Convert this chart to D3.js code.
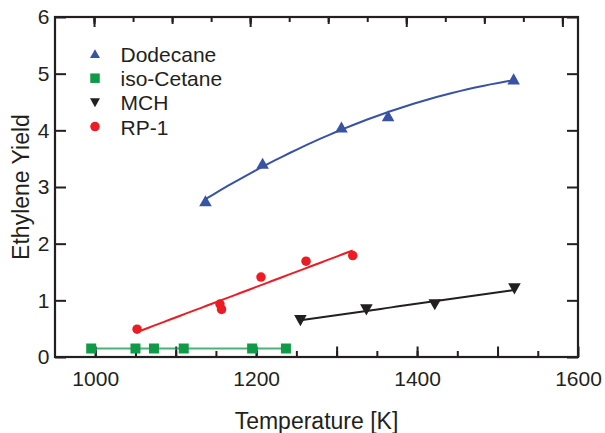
<!DOCTYPE html>
<html>
<head>
<meta charset="utf-8">
<script src="https://cdn.jsdelivr.net/npm/d3@7"></script>
<style>
  body { margin: 0; background: #fff; }
  text { font-family: "Liberation Sans", Arial, sans-serif; fill: #231f20; }
</style>
</head>
<body>
<svg id="chart" width="605" height="433"></svg>
<script>
// Data
const dodecaneT = [1137, 1208, 1306, 1364, 1520];
const dodecaneY = [2.75, 3.41, 4.05, 4.25, 4.9];
const isoCetaneT = [995, 1050, 1073, 1110, 1195, 1237];
const isoCetaneY = [0.15, 0.15, 0.15, 0.15, 0.15, 0.15];
const mchT = [1255, 1337, 1422, 1521];
const mchY = [0.65, 0.84, 0.93, 1.21];
const rp1T = [1052, 1155, 1157, 1206, 1262, 1320];
const rp1Y = [0.49, 0.935, 0.84, 1.41, 1.69, 1.79];

const seriesNames = ["Dodecane", "iso-Cetane", "MCH", "RP-1"];
const xLabelTicks = [1000, 1200, 1400, 1600];
const yTicks = [0, 1, 2, 3, 4, 5, 6];

const colors = {
  "Dodecane": "#3953a4",
  "iso-Cetane": "#0f9a48",
  "MCH": "#231f20",
  "RP-1": "#ed1c24"
};

const series = [
  { name: "Dodecane", t: dodecaneT, y: dodecaneY, shape: "up", fit: 2 },
  { name: "iso-Cetane", t: isoCetaneT, y: isoCetaneY, shape: "square", fit: 1 },
  { name: "MCH", t: mchT, y: mchY, shape: "down", fit: 1 },
  { name: "RP-1", t: rp1T, y: rp1Y, shape: "circle", fit: 1 }
];

/**
 * Least squares polynomial fit (degree 1 or 2), returns a function t -> fitted value
 */
const polyFit = (xs, ys, deg) => {
  const n = deg + 1;
  const x0 = d3.mean(xs); // centre x for stability
  const A = Array.from({ length: n }, () => new Array(n + 1).fill(0));
  xs.forEach((xv, k) => {
    const u = xv - x0;
    for (let i = 0; i < n; i++) {
      for (let j = 0; j < n; j++) A[i][j] += Math.pow(u, i + j);
      A[i][n] += ys[k] * Math.pow(u, i);
    }
  });
  // gaussian elimination
  for (let i = 0; i < n; i++) {
    for (let r = i + 1; r < n; r++) {
      const f = A[r][i] / A[i][i];
      for (let c = i; c <= n; c++) A[r][c] -= f * A[i][c];
    }
  }
  const c = new Array(n).fill(0);
  for (let i = n - 1; i >= 0; i--) {
    let s = A[i][n];
    for (let j = i + 1; j < n; j++) s -= A[i][j] * c[j];
    c[i] = s / A[i][i];
  }
  return t => c.reduce((acc, ci, i) => acc + ci * Math.pow(t - x0, i), 0);
};

const svg = d3.select("#chart");
const plotLeft = 55, plotRight = 578, plotTop = 17, plotBottom = 357;

const x = d3.scaleLinear().domain([950, 1600]).range([plotLeft, plotRight]);
const xTop = d3.scaleLinear().domain([950, 1620]).range([plotLeft, plotRight]);
const y = d3.scaleLinear().domain([0, 6]).range([plotBottom, plotTop]);

// bottom axis: minor then major ticks (inward)
svg.append("g")
  .attr("transform", `translate(0,${plotBottom})`)
  .call(d3.axisBottom(x).tickValues(d3.range(1000, 1600, 50)).tickSizeInner(-6).tickSizeOuter(0).tickFormat(""))
  .call(g => g.select(".domain").remove());

svg.append("g")
  .attr("transform", `translate(0,${plotBottom})`)
  .call(d3.axisBottom(x).tickValues(d3.range(1000, 1601, 100)).tickSizeInner(-10.5).tickSizeOuter(0)
    .tickPadding(14).tickFormat(d => xLabelTicks.includes(d) ? d : ""))
  .call(g => g.select(".domain").remove())
  .call(g => g.selectAll("text").style("font-size", "21px"));

// top axis (mirror, three tick lengths)
[[50, -5], [100, -7], [200, -10]].forEach(([step, len]) => {
  svg.append("g")
    .attr("transform", `translate(0,${plotTop})`)
    .call(d3.axisTop(xTop).tickValues(d3.range(1000, 1601, step)).tickSizeInner(len).tickSizeOuter(0).tickFormat(""))
    .call(g => g.select(".domain").remove());
});

// left axis
svg.append("g")
  .attr("transform", `translate(${plotLeft},0)`)
  .call(d3.axisLeft(y).tickValues(yTicks).tickSizeInner(-11).tickSizeOuter(0).tickPadding(5.5).tickFormat(d3.format("d")))
  .call(g => g.select(".domain").remove())
  .call(g => g.selectAll("text").style("font-size", "21px"));

// right axis
svg.append("g")
  .attr("transform", `translate(${plotRight},0)`)
  .call(d3.axisRight(y).tickValues(yTicks).tickSizeInner(-11).tickSizeOuter(0).tickFormat(""))
  .call(g => g.select(".domain").remove());

svg.selectAll("g").attr("font-family", null);
svg.selectAll(".tick line").attr("stroke", "#231f20").attr("stroke-width", 2);

// frame
svg.append("rect")
  .attr("x", plotLeft).attr("y", plotTop)
  .attr("width", plotRight - plotLeft).attr("height", plotBottom - plotTop)
  .attr("fill", "none").attr("stroke", "#231f20").attr("stroke-width", 2.2);

// axis titles
svg.append("text")
  .attr("x", (plotLeft + plotRight) / 2).attr("y", 429)
  .attr("text-anchor", "middle")
  .style("font-size", "23px")
  .text("Temperature [K]");

svg.append("text")
  .attr("transform", `translate(29,${(plotTop + plotBottom) / 2}) rotate(-90)`)
  .attr("text-anchor", "middle")
  .style("font-size", "23px")
  .text("Ethylene Yield");

// marker path generator
const markerPath = (shape, s) => {
  const h = s / 2;
  if (shape === "up") return `M0,${-h}L${h * 1.05},${h * 0.85}L${-h * 1.05},${h * 0.85}Z`;
  if (shape === "down") return `M0,${h}L${h * 1.05},${-h * 0.85}L${-h * 1.05},${-h * 0.85}Z`;
  if (shape === "square") return `M${-h},${-h}H${h}V${h}H${-h}Z`;
  return d3.symbol(d3.symbolCircle, Math.PI * h * h)();
};

const line = d3.line().x(d => x(d[0])).y(d => y(d[1]));

// fit lines
series.forEach(s => {
  const f = polyFit(s.t, s.y, s.fit);
  const [t0, t1] = d3.extent(s.t);
  const pts = d3.range(0, 41).map(i => {
    const t = t0 + (t1 - t0) * i / 40;
    return [t, f(t)];
  });
  svg.append("path")
    .datum(pts)
    .attr("d", line)
    .attr("fill", "none")
    .attr("stroke", colors[s.name])
    .attr("stroke-width", 2)
    .attr("stroke-opacity", s.name === "iso-Cetane" ? 0.75 : 1);
});

// markers
series.forEach(s => {
  const size = s.shape === "circle" ? 9.5 : (s.shape === "square" ? 10 : 12);
  svg.append("g").selectAll("path")
    .data(s.t.map((t, i) => [t, s.y[i]]))
    .join("path")
    .attr("transform", d => `translate(${x(d[0])},${y(d[1])})`)
    .attr("d", markerPath(s.shape, size))
    .attr("fill", colors[s.name]);
});

// legend
const legend = svg.append("g").attr("transform", "translate(95,54)");
seriesNames.forEach((name, i) => {
  const s = series.find(d => d.name === name);
  const row = legend.append("g").attr("transform", `translate(0,${i * 24.2})`);
  row.append("path")
    .attr("d", markerPath(s.shape, 9.5))
    .attr("fill", colors[name]);
  row.append("text")
    .attr("x", 25.5).attr("y", 8)
    .style("font-size", "21px")
    .text(name);
});
</script>
</body>
</html>
